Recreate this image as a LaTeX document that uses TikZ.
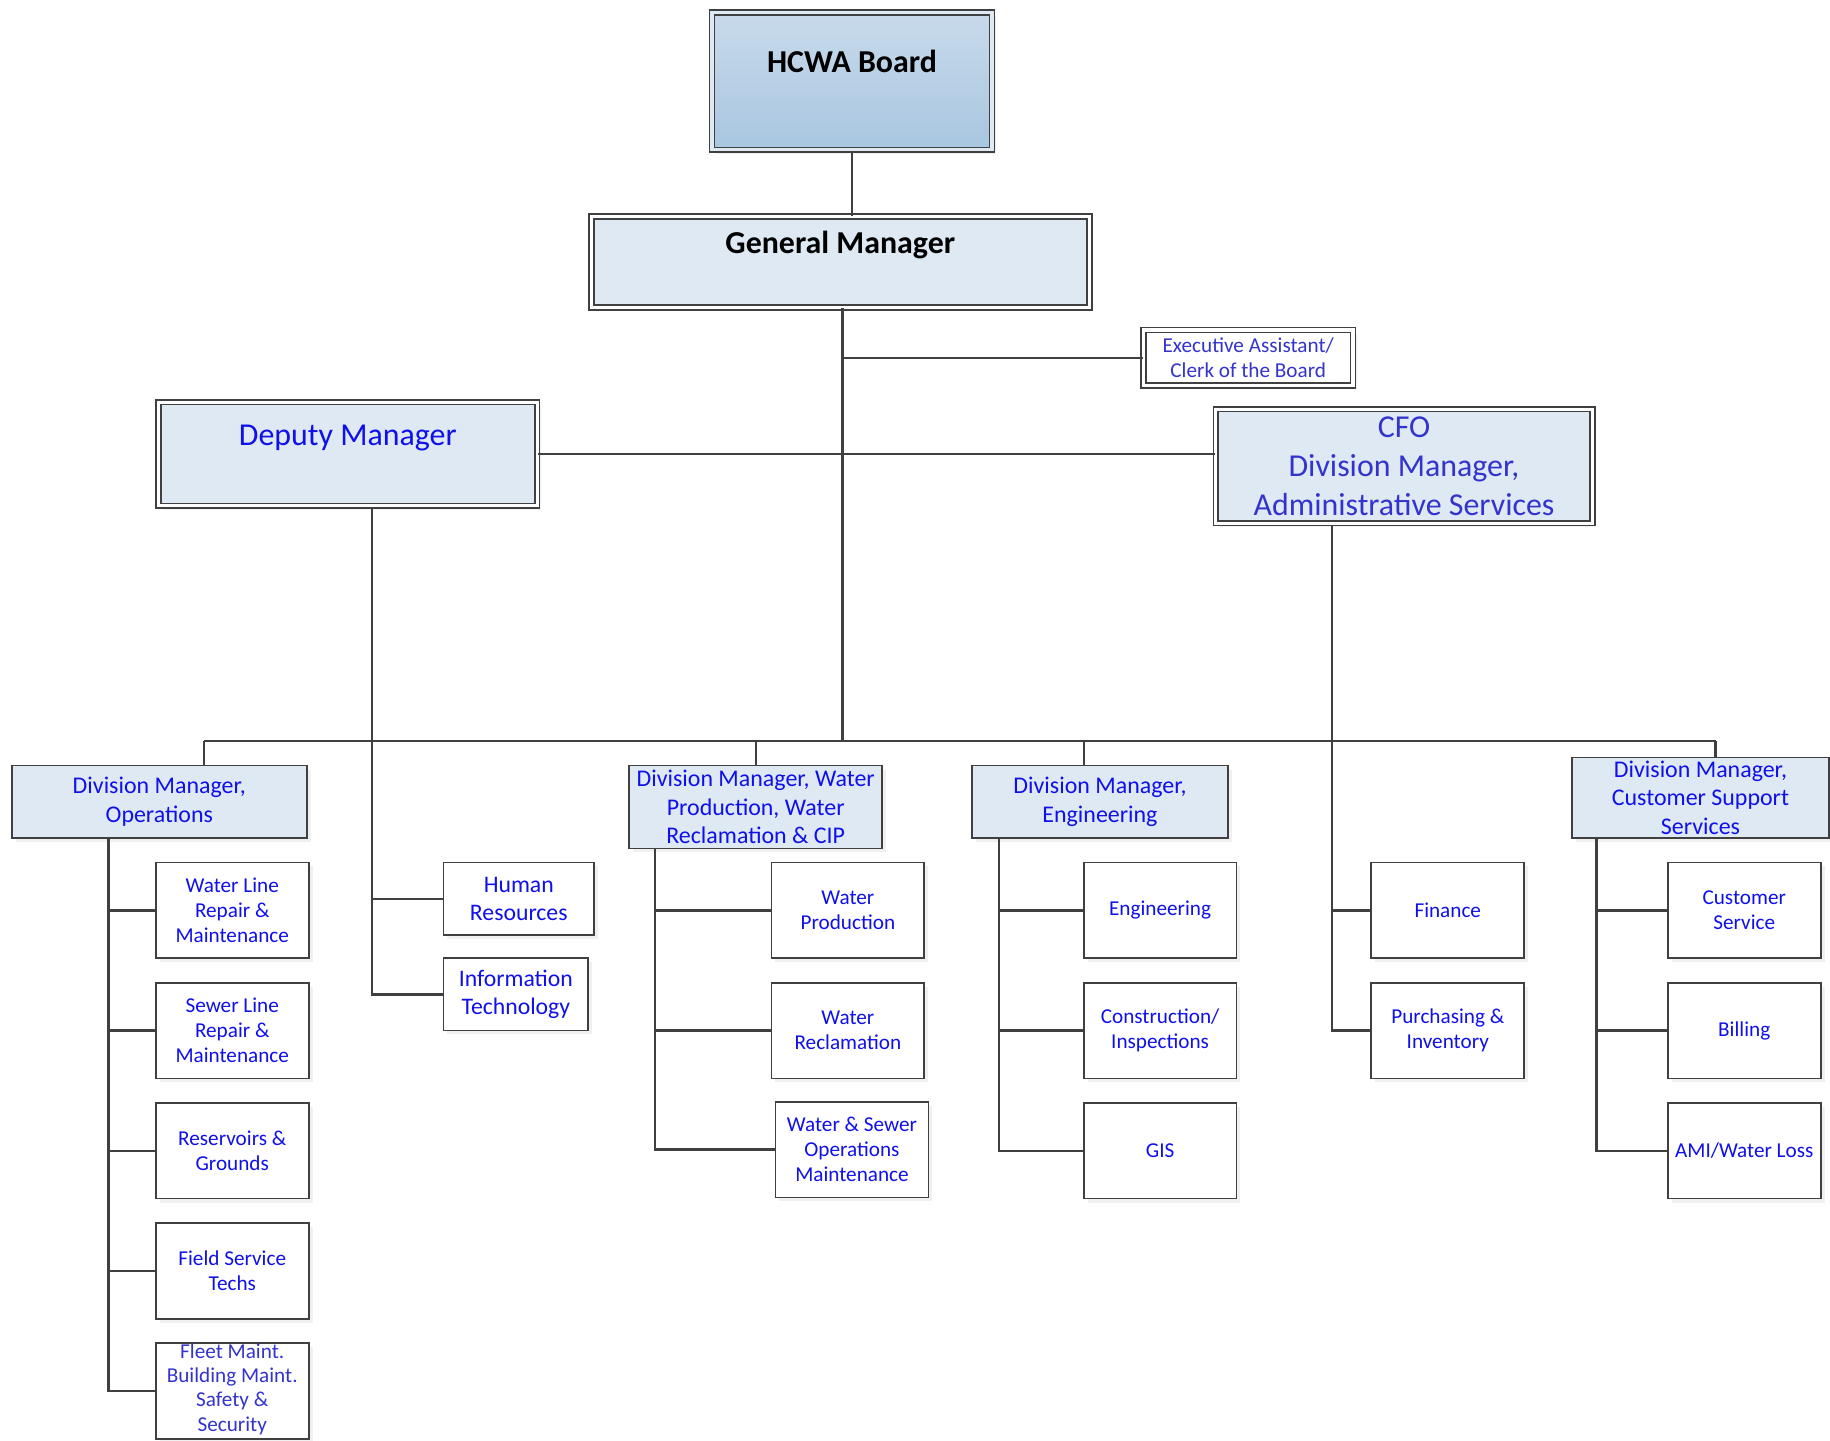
\documentclass[tikz,border=0pt]{standalone}
\usepackage{fontspec}
\setmainfont{Carlito}
\usetikzlibrary{positioning,calc,shadows}

\definecolor{linegray}{RGB}{64,64,64}
\definecolor{boxfill}{RGB}{222,233,243}
\definecolor{boardtop}{RGB}{200,218,235}
\definecolor{boardbot}{RGB}{168,198,224}
\definecolor{txtblue}{RGB}{16,16,235}
\definecolor{txtpurple}{RGB}{52,52,205}

\newcommand{\fsbig}{\fontsize{16.4}{19.8}\selectfont}
\newcommand{\fsmid}{\fontsize{12.3}{14.8}\selectfont}
\newcommand{\fshr}{\fontsize{12.2}{14.4}\selectfont}
\newcommand{\fssmall}{\fontsize{10.9}{12.9}\selectfont}

\tikzset{
  conn/.style={draw=linegray, line width=1.2pt},
  box/.style={draw=linegray, line width=0.9pt, align=center, inner sep=0.5pt,
    drop shadow={shadow xshift=2pt, shadow yshift=-2pt, opacity=0.12}},
  dblbox/.style={box, line width=0.8pt, double=white, double distance=1.7pt},
  toptext/.style={text height=12pt, text depth=21.2pt},
  divbox/.style={box, fill=boxfill, font=\fsmid, text=txtblue},
  kid/.style={box, fill=white, minimum width=78.6pt, minimum height=49.2pt, font=\fssmall, text=txtblue},
  hrbox/.style={box, fill=white, minimum height=37.2pt, font=\fshr, text=txtblue}
}

\begin{document}
\begin{tikzpicture}[x=0.6pt, y=-0.6pt]
\useasboundingbox (0,0) rectangle (1568,1234);

% top of the chart
\node[dblbox, top color=boardtop, bottom color=boardbot, double=boardtop!60!white, minimum width=144pt, minimum height=70.6pt, font=\bfseries\fsbig, toptext] (board) at (730,69.5) {HCWA Board};
\node[dblbox, fill=boxfill, minimum width=256pt, minimum height=46.6pt, font=\bfseries\fsbig, toptext] (gm) at (720,224.5) {General Manager};
\node[dblbox, fill=white, minimum width=107.8pt, minimum height=28.6pt, text=txtpurple, font=\fontsize{10.9}{12.6}\selectfont] (exec) at (1069.5,306.5) {Executive Assistant/\\Clerk of the Board};
\node[dblbox, fill=boxfill, minimum width=194.8pt, minimum height=53.2pt, text=txtblue, font=\fsbig, toptext] (dep) at (298,389) {Deputy Manager};
\node[dblbox, fill=boxfill, minimum width=193.6pt, minimum height=58.6pt, text=txtpurple, font=\fsbig] (cfo) at (1203,399.5) {CFO\\Division Manager,\\Administrative Services};

% divisions
\node[divbox, minimum width=151.8pt, minimum height=37.2pt] (ops) at (136.5,687) {Division Manager,\\Operations};
\node[divbox, minimum width=130.2pt, minimum height=42.6pt] (wp) at (647.5,691.5) {Division Manager, Water\\Production, Water\\Reclamation \& CIP};
\node[divbox, minimum width=131.4pt, minimum height=37.2pt] (eng) at (942.5,687) {Division Manager,\\Engineering};
\node[divbox, minimum width=132pt, minimum height=41.4pt] (cs) at (1457,683.5) {Division Manager,\\Customer Support\\Services};

% operations
\node[kid] (wl) at (199,780) {Water Line\\Repair \&\\Maintenance};
\node[kid, below=11.7pt of wl] (sl) {Sewer Line\\Repair \&\\Maintenance};
\node[kid, below=11.7pt of sl] (res) {Reservoirs \&\\Grounds};
\node[kid, below=11.7pt of res] (fst) {Field Service\\Techs};
\node[kid, below=11.7pt of fst, label={[align=center, font=\fontsize{10.9}{12.4}\selectfont, text=txtpurple, yshift=1pt]center:Fleet Maint.\\Building Maint.\\Safety \&\\Security}] (fleet) {};

% deputy staff
\node[hrbox, minimum width=77.4pt] (hr) at (444.5,770) {Human\\Resources};
\node[hrbox, minimum width=74.4pt] (it) at (442,852) {Information\\Technology};

% water production
\node[kid] (wprod) at (726.5,780) {Water\\Production};
\node[kid, below=11.7pt of wprod] (wrec) {Water\\Reclamation};
\node[kid] (wsom) at (730,985) {Water \& Sewer\\Operations\\Maintenance};

% engineering
\node[kid] (engg) at (994,780) {Engineering};
\node[kid, below=11.7pt of engg] (con) {Construction/\\Inspections};
\node[kid, below=11.7pt of con] (gis) {GIS};

% finance
\node[kid] (fin) at (1240.5,780) {Finance};
\node[kid, below=11.7pt of fin] (pur) {Purchasing \&\\Inventory};

% customer support
\node[kid] (cserv) at (1494.5,780) {Customer\\Service};
\node[kid, below=11.7pt of cserv] (bill) {Billing};
\node[kid, below=11.7pt of bill] (ami) {AMI/Water Loss};

% trunk points
\coordinate (hub) at (722,635);
\coordinate (opsdrop) at (175,635);
\coordinate (wpdrop) at (648,635);
\coordinate (engdrop) at (929,635);
\coordinate (csdrop) at (1470,635);
\coordinate (depx) at (319,436);
\coordinate (cfox) at (1141,451);
\coordinate (opsx) at (93,718);
\coordinate (wpx) at (561,727);
\coordinate (engx) at (856,718);
\coordinate (csx) at (1368,718);

% connectors
\draw[conn] (board.south) -- (board.south |- gm.north);
\draw[conn] (gm.south -| hub) -- (hub);
\draw[conn] (exec.west) -- (exec.west -| hub);
\draw[conn] (dep.east) -- (dep.east -| cfo.west);
\draw[conn] (opsdrop) -- (csdrop);
\draw[conn] (opsdrop) -- (opsdrop |- ops.north);
\draw[conn] (wpdrop) -- (wpdrop |- wp.north);
\draw[conn] (engdrop) -- (engdrop |- eng.north);
\draw[conn] (csdrop) -- (csdrop |- cs.north);

\draw[conn] (depx) |- (it.west);
\draw[conn] (depx |- hr.west) -- (hr.west);
\draw[conn] (cfox) |- (pur.west);
\draw[conn] (cfox |- fin.west) -- (fin.west);

\draw[conn] (opsx) |- (fleet.west);
\draw[conn] (opsx |- wl.west) -- (wl.west);
\draw[conn] (opsx |- sl.west) -- (sl.west);
\draw[conn] (opsx |- res.west) -- (res.west);
\draw[conn] (opsx |- fst.west) -- (fst.west);

\draw[conn] (wpx) |- (wsom.west);
\draw[conn] (wpx |- wprod.west) -- (wprod.west);
\draw[conn] (wpx |- wrec.west) -- (wrec.west);

\draw[conn] (engx) |- (gis.west);
\draw[conn] (engx |- engg.west) -- (engg.west);
\draw[conn] (engx |- con.west) -- (con.west);

\draw[conn] (csx) |- (ami.west);
\draw[conn] (csx |- cserv.west) -- (cserv.west);
\draw[conn] (csx |- bill.west) -- (bill.west);
\end{tikzpicture}
\end{document}
